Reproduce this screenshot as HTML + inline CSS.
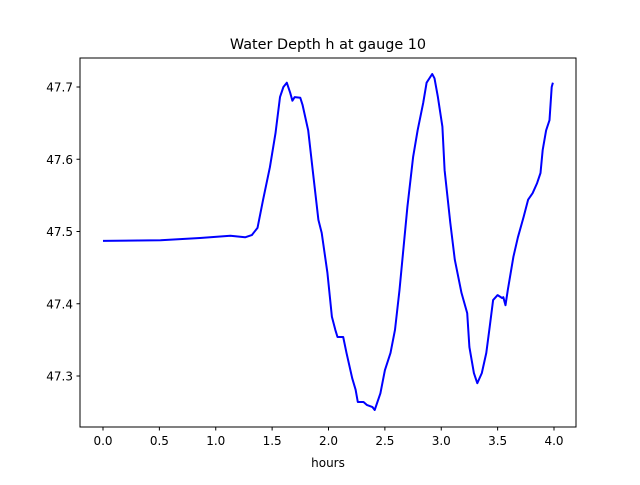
<!DOCTYPE html>
<html><head><meta charset="utf-8"><style>
body{margin:0;background:#fff;}
svg text{font-family:"DejaVu Sans","Liberation Sans",sans-serif;}
</style></head><body>
<svg id="chart" width="640" height="480" viewBox="0 0 640 480">
<rect width="640" height="480" fill="#fff"/>
<text x="328" y="49" font-size="14.4" text-anchor="middle">Water Depth h at gauge 10</text>
<g id="ticks"></g>
<polyline id="line" fill="none" stroke="#0000ff" stroke-width="2" stroke-linejoin="round"/>
<rect x="80" y="58" width="496" height="369" fill="none" stroke="#000" stroke-width="1"/>
<text x="328" y="467" font-size="12" text-anchor="middle">hours</text>
</svg>
<script>
const hours=[0.00,0.51,0.86,1.13,1.26,1.32,1.37,1.42,1.48,1.53,1.57,1.60,1.63,1.66,1.68,1.70,1.75,1.77,1.82,1.86,1.91,1.94,1.99,2.03,2.06,2.08,2.13,2.16,2.21,2.24,2.26,2.31,2.34,2.39,2.41,2.46,2.50,2.55,2.59,2.63,2.70,2.75,2.79,2.84,2.87,2.92,2.94,2.97,3.01,3.03,3.08,3.12,3.18,3.23,3.25,3.29,3.32,3.36,3.40,3.43,3.46,3.50,3.54,3.55,3.57,3.59,3.64,3.68,3.73,3.77,3.81,3.85,3.88,3.90,3.93,3.96,3.98,3.99];
const depth=[47.487,47.488,47.491,47.494,47.492,47.495,47.505,47.544,47.589,47.636,47.686,47.700,47.706,47.692,47.681,47.686,47.685,47.675,47.640,47.585,47.516,47.498,47.443,47.382,47.364,47.354,47.354,47.332,47.297,47.281,47.264,47.264,47.260,47.257,47.253,47.276,47.308,47.332,47.364,47.419,47.534,47.603,47.640,47.678,47.706,47.718,47.712,47.686,47.645,47.585,47.512,47.461,47.415,47.387,47.340,47.304,47.290,47.304,47.332,47.368,47.405,47.412,47.408,47.409,47.398,47.419,47.465,47.492,47.520,47.544,47.553,47.567,47.581,47.613,47.640,47.654,47.700,47.706];
const xTicks=[0.0,0.5,1.0,1.5,2.0,2.5,3.0,3.5,4.0];
const xTickLabels=["0.0","0.5","1.0","1.5","2.0","2.5","3.0","3.5","4.0"];
const yTicks=[47.3,47.4,47.5,47.6,47.7];
const yTickLabels=["47.3","47.4","47.5","47.6","47.7"];
const X=h=>103+h*112.75;
const Y=v=>87+(47.7-v)*722.5;
const NS="http://www.w3.org/2000/svg";
const g=document.getElementById('ticks');
function mk(tag,attrs){const e=document.createElementNS(NS,tag);for(const k in attrs)e.setAttribute(k,attrs[k]);return e;}
xTicks.forEach((t,i)=>{
  const l=mk('line',{x1:X(t),x2:X(t),y1:427,y2:430.5,stroke:'#000'});
  
  
  g.appendChild(l);
  const tx=mk('text',{x:X(t),y:445,'font-size':12,'text-anchor':'middle'});
  tx.textContent=xTickLabels[i];
  
  
  g.appendChild(tx);
});
yTicks.forEach((t,i)=>{
  const l=mk('line',{x1:76.5,x2:80,y1:Y(t),y2:Y(t),stroke:'#000'});
  
  
  g.appendChild(l);
  const tx=mk('text',{x:73,y:Y(t)+4.5,'font-size':12,'text-anchor':'end'});
  tx.textContent=yTickLabels[i];
  
  
  g.appendChild(tx);
});
document.getElementById('line').setAttribute('points',hours.map((h,i)=>X(h).toFixed(1)+','+Y(depth[i]).toFixed(1)).join(' '));
</script>
</body></html>
